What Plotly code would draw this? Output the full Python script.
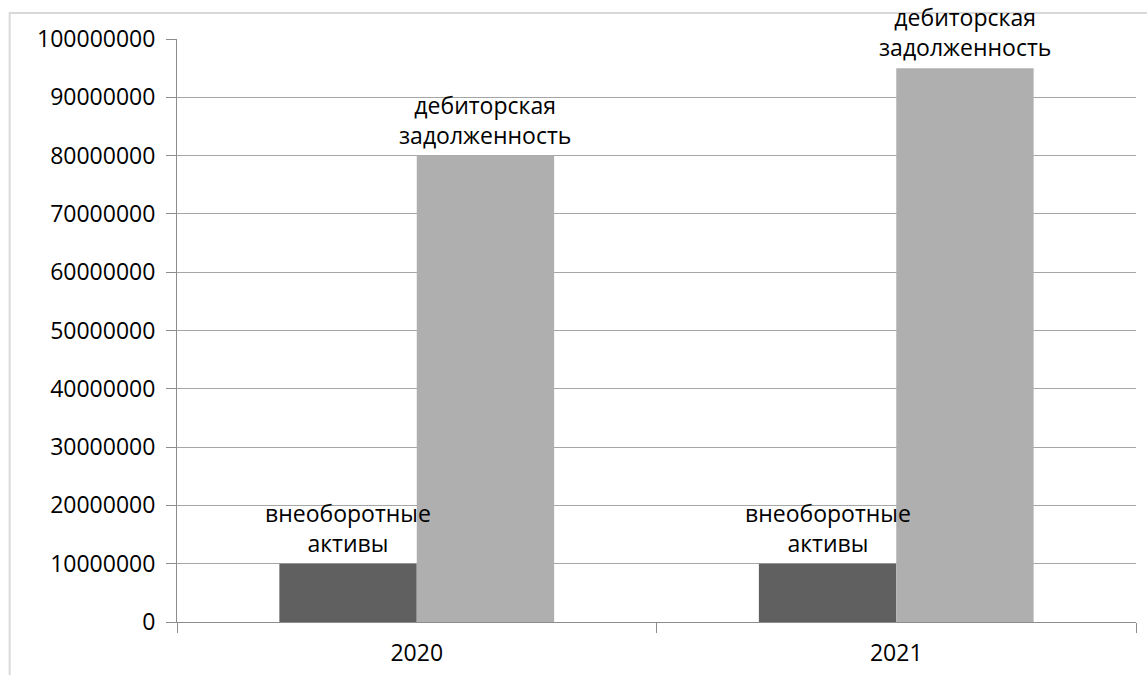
import plotly.graph_objects as go

years = ["2020", "2021"]
noncurrent_assets = [10000000, 10000000]
receivables = [80000000, 95000000]
label_assets = "внеоборотные<br>активы"
label_receivables = "дебиторская<br>задолженность"
y_ticks = list(range(0, 100000001, 10000000))

FONT = "Open Sans"
fig = go.Figure()
fig.add_trace(go.Bar(x=years, y=noncurrent_assets, name="внеоборотные активы",
                     marker=dict(color="#606060", line=dict(width=0))))
fig.add_trace(go.Bar(x=years, y=receivables, name="дебиторская задолженность",
                     marker=dict(color="#afafaf", line=dict(width=0))))

bargap = 0.427
half = (1 - bargap) / 2
plot_w = 1147 - 177 - 11
cat_px = plot_w / len(years)
offset_px = half / 2 * cat_px

for i, yr in enumerate(years):
    fig.add_annotation(x=i, y=noncurrent_assets[i], xref="x", yref="y",
                       text=label_assets, showarrow=False, yanchor="bottom",
                       xshift=-offset_px, yshift=3,
                       font=dict(family=FONT, size=23, color="#000000"))
    fig.add_annotation(x=i, y=receivables[i], xref="x", yref="y",
                       text=label_receivables, showarrow=False, yanchor="bottom",
                       xshift=offset_px, yshift=3,
                       font=dict(family=FONT, size=23, color="#000000"))

fig.add_shape(type="rect", xref="paper", yref="paper",
              x0=-0.1745, x1=1.05, y0=-0.2, y1=1.0446,
              line=dict(color="#d9d9d9", width=2), layer="below")

fig.update_layout(
    width=1147, height=675,
    margin=dict(l=177, r=11, t=39, b=53, autoexpand=False),
    barmode="group", bargap=bargap, bargroupgap=0,
    plot_bgcolor="white", paper_bgcolor="white",
    showlegend=False,
    font=dict(family=FONT, size=23, color="#000000"),
    xaxis=dict(type="category", range=[-0.5, len(years) - 0.5],
               showline=True, linecolor="#8c8c8c", linewidth=1,
               ticks="outside", tickson="boundaries", ticklen=10, tickcolor="#8c8c8c",
               showgrid=False, tickangle=0, ticklabelstandoff=10),
    yaxis=dict(range=[0, 100000000], tickvals=y_ticks, tickformat="d",
               showline=True, linecolor="#8c8c8c", linewidth=1,
               ticks="outside", ticklen=10, tickcolor="#8c8c8c",
               showgrid=True, gridcolor="#a6a6a6", gridwidth=1, zeroline=False,
               ticklabelstandoff=6),
)

fig.write_html("out.html", config={"displayModeBar": False})
